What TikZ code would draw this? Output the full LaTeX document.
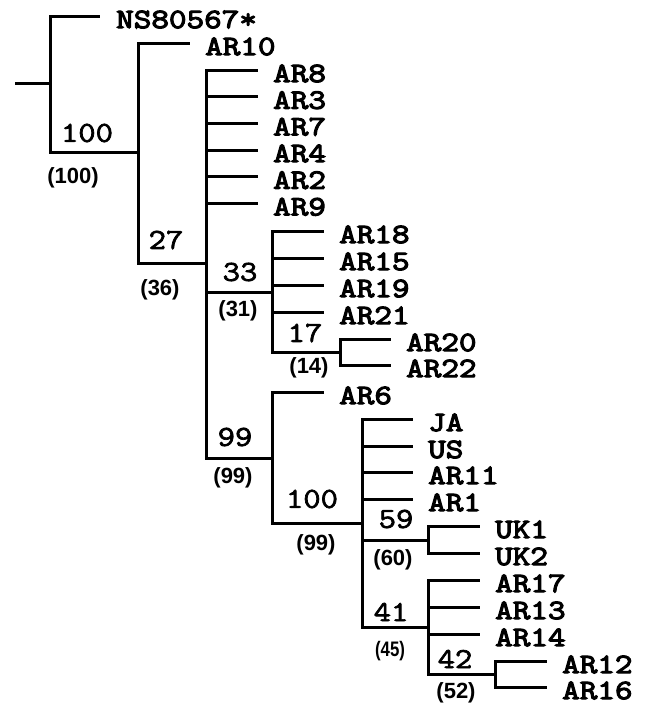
\documentclass[tikz,border=0pt]{standalone}
\usepackage{fontspec}
\usepackage{graphicx}
\setmainfont{Liberation Sans}
\newfontfamily\leaff{Latin Modern Mono}[FakeStretch=1.22, FakeBold=4]
\newfontfamily\bootf{Latin Modern Mono}[FakeStretch=1.16, FakeBold=2.5]
\tikzset{
  br/.style={line width=3pt, line join=miter},
  leaf/.style={anchor=west, inner sep=0pt, font=\leaff\fontsize{28}{28}\selectfont},
  boot/.style={anchor=center, inner sep=0pt, font=\bootf\fontsize{29}{29}\selectfont},
  bpar/.style={anchor=center, inner sep=0pt, font=\bfseries\fontsize{22}{22}\selectfont}
}
\begin{document}
\begin{tikzpicture}[x=1pt,y=-1pt]
\useasboundingbox (0,0) rectangle (648,705);
% internal nodes
\coordinate (r0) at (15,83);
\coordinate (n0) at (50,83);
\coordinate (n1) at (138,152);
\coordinate (n2) at (206,263);
\coordinate (n3) at (272,292);
\coordinate (n4) at (340,352);
\coordinate (n5) at (272,458);
\coordinate (n6) at (362,523);
\coordinate (n7) at (428,540);
\coordinate (n8) at (428,627);
\coordinate (n9) at (495,674);
% leaf ends
\coordinate (eNS) at (100,16);
\coordinate (eAR10) at (190,43);
\coordinate (eAR8) at (258,70);
\coordinate (eAR3) at (258,96.7);
\coordinate (eAR7) at (258,123.3);
\coordinate (eAR4) at (258,150);
\coordinate (eAR2) at (258,176.7);
\coordinate (eAR9) at (258,203.3);
\coordinate (eAR18) at (324,231);
\coordinate (eAR15) at (324,258);
\coordinate (eAR19) at (324,285);
\coordinate (eAR21) at (324,312);
\coordinate (eAR20) at (391,339);
\coordinate (eAR22) at (391,365);
\coordinate (eAR6) at (324,392);
\coordinate (eJA) at (413,419);
\coordinate (eUS) at (413,446);
\coordinate (eAR11) at (413,472);
\coordinate (eAR1) at (413,499);
\coordinate (eUK1) at (480,526);
\coordinate (eUK2) at (480,553);
\coordinate (eAR17) at (480,580);
\coordinate (eAR13) at (480,607);
\coordinate (eAR14) at (480,634);
\coordinate (eAR12) at (547,661);
\coordinate (eAR16) at (547,687);
% branches
\draw[br] (r0) -- (n0);
\draw[br] (n0) |- (eNS);
\draw[br] (n0) |- (n1);
\draw[br] (n1) |- (eAR10);
\draw[br] (n1) |- (n2);
\foreach \l in {AR8,AR3,AR7,AR4,AR2,AR9} \draw[br] (n2) |- (e\l);
\draw[br] (n2) |- (n3);
\draw[br] (n2) |- (n5);
\foreach \l in {AR18,AR15,AR19,AR21} \draw[br] (n3) |- (e\l);
\draw[br] (n3) |- (n4);
\foreach \l in {AR20,AR22} \draw[br] (n4) |- (e\l);
\draw[br] (n5) |- (eAR6);
\draw[br] (n5) |- (n6);
\foreach \l in {JA,US,AR11,AR1} \draw[br] (n6) |- (e\l);
\draw[br] (n6) |- (n7);
\draw[br] (n6) |- (n8);
\foreach \l in {UK1,UK2} \draw[br] (n7) |- (e\l);
\foreach \l in {AR17,AR13,AR14} \draw[br] (n8) |- (e\l);
\draw[br] (n8) |- (n9);
\foreach \l in {AR12,AR16} \draw[br] (n9) |- (e\l);
% leaf labels
\node[leaf] (tNS) at ([shift={(16,3.5)}]eNS) {NS80567*};
\foreach \l in {AR10,AR8,AR3,AR7,AR4,AR2,AR9,AR18,AR15,AR19,AR21,AR20,AR22,AR6,JA,US,AR11,AR1,UK1,UK2,AR17,AR13,AR14,AR12,AR16}
  \node[leaf] (t\l) at ([shift={(15,3.5)}]e\l) {\l};
% support values
\node[boot] (b1) at (87,133) {100};
\node[bpar] (p1) at (73,178) {(100)};
\node[boot] (b2) at (166,240) {27};
\node[bpar] (p2) at (160,290) {(36)};
\node[boot] (b3) at (240,272) {33};
\node[bpar] (p3) at (238,311) {(31)};
\node[boot] (b4) at (305,333) {17};
\node[bpar] (p4) at (309,368) {(14)};
\node[boot] (b5) at (235,437) {99};
\node[bpar] (p5) at (233,478) {(99)};
\node[boot] (b6) at (312,499) {100};
\node[bpar] (p6) at (316,545) {(99)};
\node[boot] (b7) at (396,519) {59};
\node[bpar] (p7) at (393,560) {(60)};
\node[boot] (b8) at (391,612) {41};
\node[bpar, font=\bfseries\fontsize{21}{21}\selectfont] (p8) at (390,651) {\scalebox{0.8}[1]{(45)}};
\node[boot] (b9) at (455,659) {42};
\node[bpar] (p9) at (456,693) {(52)};
\end{tikzpicture}
\end{document}
